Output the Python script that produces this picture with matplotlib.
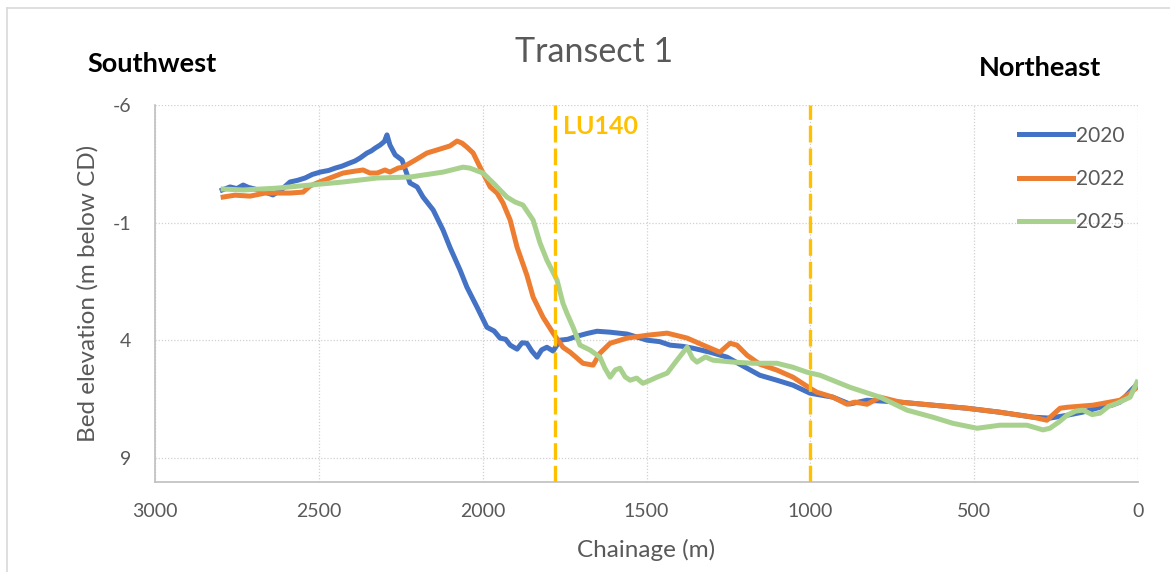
import matplotlib
matplotlib.use("Agg")
import matplotlib.pyplot as plt
from matplotlib.lines import Line2D

plt.rcParams['font.family'] = ['Lato', 'DejaVu Sans']
plt.rcParams['axes.unicode_minus'] = False

# ---- data (chainage m, bed elevation m below CD) ----
ch_2020 = [2795, 2771, 2750, 2731, 2715, 2695, 2664, 2640, 2612, 2588, 2565, 2542, 2520, 2496,
           2470, 2450, 2430, 2405, 2390, 2374, 2353, 2340, 2328, 2313, 2300, 2292, 2283, 2267,
           2246, 2222, 2200, 2182, 2151, 2121, 2100, 2069, 2048, 2017, 1987, 1965, 1947, 1930,
           1916, 1895, 1880, 1865, 1850, 1834, 1820, 1804, 1785, 1764, 1740, 1712, 1680, 1651,
           1611, 1559, 1498, 1460, 1428, 1390, 1358, 1306, 1254, 1205, 1154, 1102, 1053, 1001,
           931, 880, 827, 726, 626, 522, 421, 320, 269, 217, 170, 116, 80, 55, 15, 3]
el_2020 = [-2.39, -2.52, -2.45, -2.60, -2.50, -2.43, -2.30, -2.18, -2.43, -2.73, -2.80, -2.90,
           -3.05, -3.15, -3.22, -3.32, -3.40, -3.54, -3.62, -3.75, -3.96, -4.05, -4.17, -4.30,
           -4.45, -4.73, -4.30, -3.88, -3.66, -2.69, -2.52, -2.09, -1.54, -0.69, 0.04, 1.01,
           1.74, 2.59, 3.44, 3.60, 3.90, 3.95, 4.20, 4.37, 4.10, 4.12, 4.45, 4.71, 4.40, 4.29,
           4.45, 3.99, 3.95, 3.82, 3.70, 3.61, 3.65, 3.73, 3.99, 4.05, 4.20, 4.25, 4.33, 4.50,
           4.71, 5.09, 5.48, 5.69, 5.90, 6.24, 6.41, 6.70, 6.54, 6.62, 6.75, 6.88, 7.05, 7.26,
           7.30, 7.18, 7.05, 6.84, 6.75, 6.62, 6.03, 5.86]

ch_2022 = [2792, 2756, 2710, 2664, 2627, 2588, 2548, 2527, 2505, 2466, 2426, 2390, 2365, 2344,
           2322, 2298, 2283, 2258, 2243, 2206, 2170, 2130, 2100, 2078, 2063, 2048, 2029, 2008,
           1977, 1956, 1938, 1916, 1895, 1865, 1846, 1816, 1785, 1755, 1733, 1712, 1694, 1663,
           1642, 1611, 1559, 1498, 1437, 1376, 1327, 1276, 1245, 1224, 1193, 1154, 1102, 1053,
           1001, 980, 931, 888, 864, 827, 787, 726, 626, 522, 421, 320, 278, 238, 217, 137, 55,
           24, 3]
el_2022 = [-2.09, -2.17, -2.13, -2.26, -2.26, -2.26, -2.30, -2.56, -2.69, -2.90, -3.11, -3.19,
           -3.24, -3.11, -3.11, -3.24, -3.15, -3.32, -3.36, -3.66, -3.96, -4.13, -4.26, -4.47,
           -4.38, -4.21, -3.96, -3.36, -2.52, -2.26, -1.84, -1.11, 0.04, 1.23, 2.16, 3.01, 3.69,
           4.29, 4.50, 4.75, 4.97, 5.05, 4.54, 4.12, 3.90, 3.78, 3.69, 3.90, 4.20, 4.50, 4.12,
           4.20, 4.63, 5.01, 5.26, 5.56, 6.03, 6.20, 6.41, 6.71, 6.62, 6.71, 6.41, 6.62, 6.75,
           6.88, 7.05, 7.26, 7.39, 6.88, 6.84, 6.75, 6.54, 6.24, 5.99]

ch_2025 = [2792, 2731, 2627, 2527, 2426, 2322, 2222, 2121, 2060, 2039, 1999, 1968, 1926, 1901,
           1877, 1846, 1825, 1804, 1773, 1755, 1743, 1724, 1703, 1672, 1642, 1627, 1611, 1595,
           1581, 1565, 1550, 1530, 1511, 1490, 1468, 1437, 1407, 1376, 1360, 1346, 1320, 1297,
           1236, 1175, 1102, 1053, 1010, 970, 879, 787, 705, 626, 565, 491, 421, 339, 290, 269,
           240, 217, 190, 168, 140, 116, 90, 64, 24, 3]
el_2025 = [-2.43, -2.39, -2.47, -2.60, -2.73, -2.90, -2.94, -3.15, -3.36, -3.32, -3.11, -2.69,
           -2.09, -1.88, -1.75, -1.11, -0.14, 0.59, 1.44, 2.42, 2.84, 3.44, 4.20, 4.41, 4.71,
           5.18, 5.56, 5.25, 5.18, 5.55, 5.69, 5.60, 5.82, 5.70, 5.56, 5.39, 4.84, 4.29, 4.75,
           4.92, 4.70, 4.84, 4.92, 4.97, 4.97, 5.14, 5.35, 5.48, 5.99, 6.41, 6.96, 7.26, 7.52,
           7.73, 7.60, 7.60, 7.80, 7.73, 7.45, 7.18, 7.00, 6.96, 7.15, 7.09, 6.80, 6.67, 6.41,
           5.77]

years = ['2020', '2022', '2025']
colors = ['#4472C4', '#ED7D31', '#A9D18E']
markers_ch = [1780, 1000]
marker_label = 'LU140'
x_ticks = [3000, 2500, 2000, 1500, 1000, 500, 0]
y_ticks = [-6, -1, 4, 9]

fig = plt.figure(figsize=(11.7, 5.72), dpi=100)
ax = fig.add_axes([155/1170, 1 - 481.7/572, (1138 - 155)/1170, (481.7 - 105)/572])

for ch, el, c, lab in zip([ch_2020, ch_2022, ch_2025], [el_2020, el_2022, el_2025], colors, years):
    ax.plot(ch, el, color=c, lw=3.6, label=lab, solid_joinstyle='round', zorder=3)

for m in markers_ch:
    ax.axvline(m, color='#FFC000', lw=2.4, ls=(0, (5, 1.8)), zorder=4)
ax.text(1755, -5.1, marker_label, color='#FFC000', fontsize=18, fontweight='bold',
        ha='left', va='center')

ax.set_xlim(3000, 0)
ax.set_ylim(10, -6)
ax.set_xticks(x_ticks)
ax.set_yticks(y_ticks)
ax.tick_params(axis='x', length=0, labelsize=14, colors='#595959', pad=15)
ax.tick_params(axis='y', length=0, labelsize=14, colors='#595959', pad=17)
ax.grid(True, color='#D0D0D0', ls=(0, (1, 1.5)), lw=0.9)
for s in ['top', 'right']:
    ax.spines[s].set_visible(False)
for s in ['left', 'bottom']:
    ax.spines[s].set_color('#BFBFBF')
    ax.spines[s].set_linewidth(1.2)

ax.set_xlabel('Chainage (m)', fontsize=17.5, color='#595959', labelpad=14)
ax.set_ylabel('Bed elevation (m below CD)', fontsize=17.5, color='#595959', labelpad=10)

leg = ax.legend(loc='upper right', frameon=False, fontsize=15, handlelength=2.6,
                handletextpad=0.12, labelspacing=1.12, bbox_to_anchor=(1.005, 0.995))
for t in leg.get_texts():
    t.set_color('#595959')

fig.text(594/1170, 1 - 52/572, 'Transect 1', fontsize=24.5, color='#595959', ha='center', va='center')
fig.text(87/1170, 1 - 64/572, 'Southwest', fontsize=19.5, fontweight='bold', color='black',
         ha='left', va='center')
fig.text(1101/1170, 1 - 68/572, 'Northeast', fontsize=19.5, fontweight='bold', color='black',
         ha='right', va='center')

# outer frame (top and left edges visible)
fig.add_artist(Line2D([7/1170, 1], [1 - 8/572, 1 - 8/572], color='#D9D9D9', lw=1.2,
                      transform=fig.transFigure))
fig.add_artist(Line2D([7/1170, 7/1170], [0, 1 - 8/572], color='#D9D9D9', lw=1.2,
                      transform=fig.transFigure))

fig.savefig('out.png', dpi=100, facecolor='white')
